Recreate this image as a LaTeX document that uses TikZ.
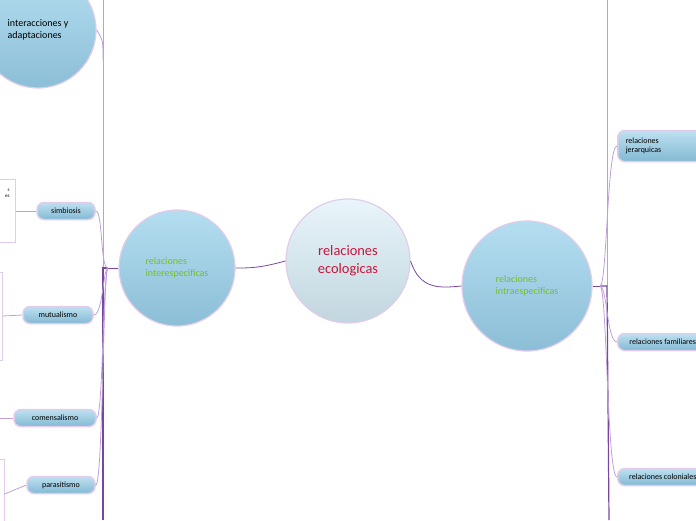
\documentclass[tikz,border=0pt]{standalone}
\usepackage{fontspec}
\setmainfont{Carlito}
\definecolor{bubT}{RGB}{180,222,240}
\definecolor{bubB}{RGB}{140,190,215}
\definecolor{pilT}{RGB}{190,225,240}
\definecolor{pilB}{RGB}{130,185,212}
\definecolor{lnD}{RGB}{120,70,160}
\definecolor{lnL}{RGB}{190,160,215}
\definecolor{edg}{RGB}{225,205,235}
\definecolor{grn}{RGB}{120,190,40}
\definecolor{crim}{RGB}{200,20,60}
\begin{document}
\begin{tikzpicture}[x=1pt,y=-1pt,
 bub/.style={circle,draw=edg,line width=1.2pt,top color=bubT,bottom color=bubB,align=left,inner sep=0pt},
 pill/.style={rounded corners=7pt,draw=edg,line width=1.5pt,top color=pilT,bottom color=pilB,font=\footnotesize,minimum height=17pt,inner sep=3pt,text=black},
 box/.style={draw=edg,fill=white,line width=1pt},
 lnk/.style={draw=lnD,line width=0.8pt},
 lnl/.style={draw=lnL,line width=0.8pt}]
\useasboundingbox (0,0) rectangle (696,520);
\clip (0,0) rectangle (696,520);
% boxes
\node[box,minimum width=30pt,minimum height=63pt] (b1) at (0,211) {};
\node[anchor=east,font=\tiny,align=right] (b1t) at (13,193) {s\\es};
\node[box,minimum width=14pt,minimum height=88pt] (b2) at (-5,316) {};
\node[box,minimum width=18pt,minimum height=70pt] (b3) at (-5,494) {};
\coordinate (b4) at (0,418);
% spines
\coordinate (L) at (108,268);
\coordinate (R) at (600,286);
\draw[lnl] (103,0) -- (103,268);
\draw[lnk,line width=1.2pt] (L) -- (103,268) -- (103,520);
\draw[lnl] (607,0) -- (607,286);
\draw[lnk,line width=1.2pt] (R) -- (607,286) -- (609,520);
% bubbles
\node[bub,minimum size=116pt,font=\normalsize] (ia) at (38,30) {interacciones y\\adaptaciones};
\node[bub,minimum size=116pt,text=grn,font=\normalsize] (ie) at (177,268) {relaciones\\interespecificas};
\node[bub,minimum size=124pt,top color=white!70!bubT,bottom color=white!40!bubT!80!gray,text=crim,font=\Large,align=center] (c) at (348,261) {relaciones\\ecologicas};
\node[bub,minimum size=130pt,text=grn,font=\normalsize] (ra) at (527,286) {relaciones\\intraespecificas};
% pills
\node[pill,minimum width=58pt] (s) at (66,211) {simbiosis};
\node[pill,minimum width=70pt] (m) at (58,315) {mutualismo};
\node[pill,minimum width=82pt] (co) at (55,418) {comensalismo};
\node[pill,minimum width=68pt] (p) at (61,485) {parasitismo};
\node[pill,minimum width=90pt,minimum height=31pt,anchor=west,align=left,text width=75pt,inner xsep=8pt] (j) at (617,146) {relaciones\\jerarquicas};
\node[pill,minimum width=90pt,anchor=west,align=left,inner xsep=8pt] (f) at (617,342) {relaciones familiares};
\node[pill,minimum width=90pt,anchor=west,align=left,inner xsep=8pt] (cl) at (617,477) {relaciones coloniales};
% connectors
\draw[lnk] (c.west) .. controls (260,268) and (250,268) .. (ie.east);
\draw[lnk] (c.east) .. controls (420,290) and (440,288) .. (ra.west);
\draw[lnk] (ie.west) -- (L);
\draw[lnk] (ra.east) -- (R);
\draw[lnl] (ia.east) .. controls (103,40) .. (103,60);
\draw[lnl] (s.east) .. controls (103,211) and (100,268) .. (L);
\draw[lnl] (m.east) .. controls (103,315) and (103,268) .. (L);
\draw[lnl] (co.east) .. controls (103,418) and (103,268) .. (L);
\draw[lnl] (p.east) .. controls (103,485) and (103,268) .. (L);
\draw[lnl] (j.west) .. controls (607,146) and (607,286) .. (R);
\draw[lnl] (f.west) .. controls (607,342) and (607,286) .. (R);
\draw[lnl] (cl.west) .. controls (607,477) and (607,286) .. (R);
\draw[lnl] (s.west) -- (b1.east);
\draw[lnl] (m.west) -- (b2.east);
\draw[lnl] (co.west) -- (b4);
\draw[lnl] (p.west) -- (b3.east);
\end{tikzpicture}
\end{document}
